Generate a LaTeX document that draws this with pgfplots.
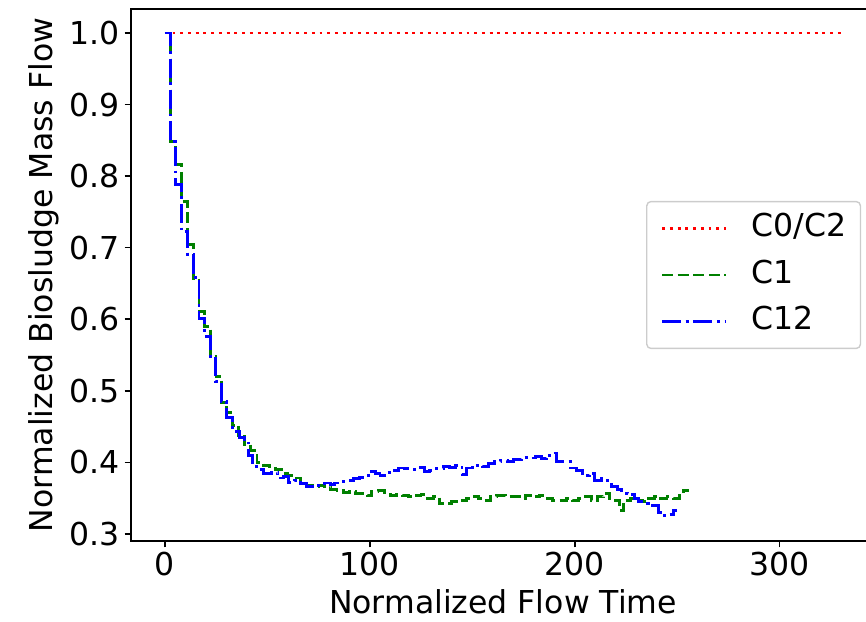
\documentclass[border=0pt]{standalone}
\usepackage{fontspec}
\setmainfont{DejaVu Sans}
\usepackage{pgfplots}
\pgfplotsset{compat=1.18}
\definecolor{mplgreen}{rgb}{0,0.5,0}
\newcommand{\bigfont}{\fontsize{22.7}{27}\selectfont}

\begin{document}
\begin{tikzpicture}
\begin{axis}[
  name=ax, scale only axis, width=535.7pt, height=383pt,
  xmin=-16.5, xmax=346.5, ymin=0.29, ymax=1.0335,
  tick pos=left, tick align=outside, major tick length=4.6pt,
  every tick/.style={black, line width=1.1pt},
  axis line style={line width=1.1pt},
  xtick={0,100,200,300},
  ytick={0.3,0.4,0.5,0.6,0.7,0.8,0.9,1.0},
  yticklabel style={/pgf/number format/.cd, fixed, fixed zerofill, precision=1},
  /pgf/number format/assume math mode=true,
  tick label style={font=\bigfont},
  label style={font=\bigfont},
  xlabel={Normalized Flow Time},
  ylabel={Normalized Biosludge Mass Flow},
  xlabel style={at={(axis description cs:0.5,-0.137)}, anchor=base, inner sep=0pt},
  ylabel style={at={(axis description cs:-0.1048,0.5)}, anchor=base, inner sep=0pt},
  legend cell align=left,
  legend image code/.code={\draw[#1] (0pt,0pt) -- (46pt,0pt);},
  legend style={at={(1,0.5)}, anchor=east, xshift=-10pt,
    draw=black!20, line width=1pt, rounded corners=3pt, fill=white,
    font=\bigfont,
    inner xsep=10pt, inner ysep=8.7pt, row sep=12.2pt,
    nodes={inner sep=0pt, text height=16.5pt, text depth=4.8pt},
    /tikz/every odd column/.append style={column sep=17.5pt}},
]
\addplot[red, line width=2.1pt, dash pattern=on 2.1pt off 3.47pt]
  coordinates {(0,1.0) (330,1.0)};
\addlegendentry{C0/C2}

\addplot[mplgreen, line width=2.1pt, dash pattern=on 7.8pt off 3.4pt, const plot]
  coordinates {
  (0,1.0) (2.7,0.848) (5.4,0.816) (8.1,0.764) (11.1,0.705) (13.8,0.657)
  (16.7,0.611) (19.5,0.590) (22.3,0.548) (25,0.520) (27.6,0.484) (30.3,0.470)
  (33,0.452) (36,0.438) (39,0.425) (42,0.416) (45,0.400) (48,0.396)
  (51,0.394) (54,0.390) (57,0.384) (60,0.382) (63,0.378) (66,0.372)
  (69,0.368) (72,0.366) (75,0.368) (78,0.366) (81,0.362) (84,0.360)
  (87,0.358) (90,0.359) (93,0.357) (96,0.356) (99,0.353) (101,0.359)
  (104,0.360) (107,0.358) (110,0.354) (113,0.355) (116,0.354) (119,0.352)
  (122,0.354) (125,0.355) (128,0.350) (131,0.352) (134,0.342) (137,0.343)
  (140,0.345) (144,0.347) (147,0.350) (150,0.352) (153,0.350) (156,0.347)
  (159,0.352) (162,0.354) (166,0.352) (170,0.352) (173,0.350) (176,0.354)
  (180,0.352) (183,0.354) (186,0.350) (189,0.347) (192,0.347) (196,0.349)
  (199,0.347) (202,0.350) (205,0.352) (208,0.347) (211,0.352) (214,0.356)
  (217,0.349) (220,0.347) (222,0.333) (224,0.347) (227,0.350) (230,0.347)
  (233,0.345) (236,0.349) (239,0.352) (242,0.350) (245,0.352) (248,0.350)
  (251,0.354) (253,0.361) (255,0.363)
  };
\addlegendentry{C1}

\addplot[blue, line width=2.1pt, dash pattern=on 13.6pt off 3.4pt on 2.1pt off 3.4pt, const plot]
  coordinates {
  (0,1.0) (2.7,0.848) (5.4,0.788) (8.1,0.722) (11.1,0.690) (13.8,0.658)
  (16.7,0.601) (19.5,0.576) (22.3,0.545) (24.7,0.513) (27.6,0.485) (30.3,0.462)
  (33,0.443) (36.5,0.435) (39,0.427) (41,0.410) (43,0.394) (45.5,0.390)
  (48,0.384) (52,0.386) (55,0.378) (57.7,0.380) (60.5,0.372) (63.4,0.375)
  (66,0.370) (69,0.366) (72.4,0.366) (75,0.368) (78,0.371) (81,0.369)
  (83,0.371) (86,0.373) (89,0.374) (92,0.377) (95,0.379) (98,0.381)
  (100.8,0.387) (103,0.384) (105,0.382) (108,0.386) (111,0.389) (114,0.392)
  (117,0.391) (120,0.390) (123,0.393) (126.8,0.387) (129,0.389) (132,0.391)
  (135.8,0.394) (139,0.393) (142,0.395) (145,0.383) (147,0.392) (150,0.396)
  (155,0.394) (158,0.398) (161,0.401) (164,0.403) (167,0.401) (170,0.404)
  (174,0.407) (178,0.406) (181,0.408) (184,0.405) (186,0.410) (189,0.413)
  (191,0.401) (195,0.401) (198,0.392) (201,0.389) (203.6,0.382) (207,0.384)
  (209.8,0.375) (213,0.377) (216,0.372) (218,0.366) (221,0.362) (223,0.357)
  (226,0.355) (229,0.350) (231,0.345) (234,0.342) (236,0.339) (239,0.340)
  (241,0.330) (243,0.325) (246,0.327) (248,0.332) (250,0.332)
  };
\addlegendentry{C12}
\end{axis}
\pgfresetboundingbox
\path ([xshift=-94.3pt,yshift=-58.3pt]ax.south west) rectangle ([xshift=-6.5pt,yshift=6.5pt]ax.north east);
\end{tikzpicture}
\end{document}
